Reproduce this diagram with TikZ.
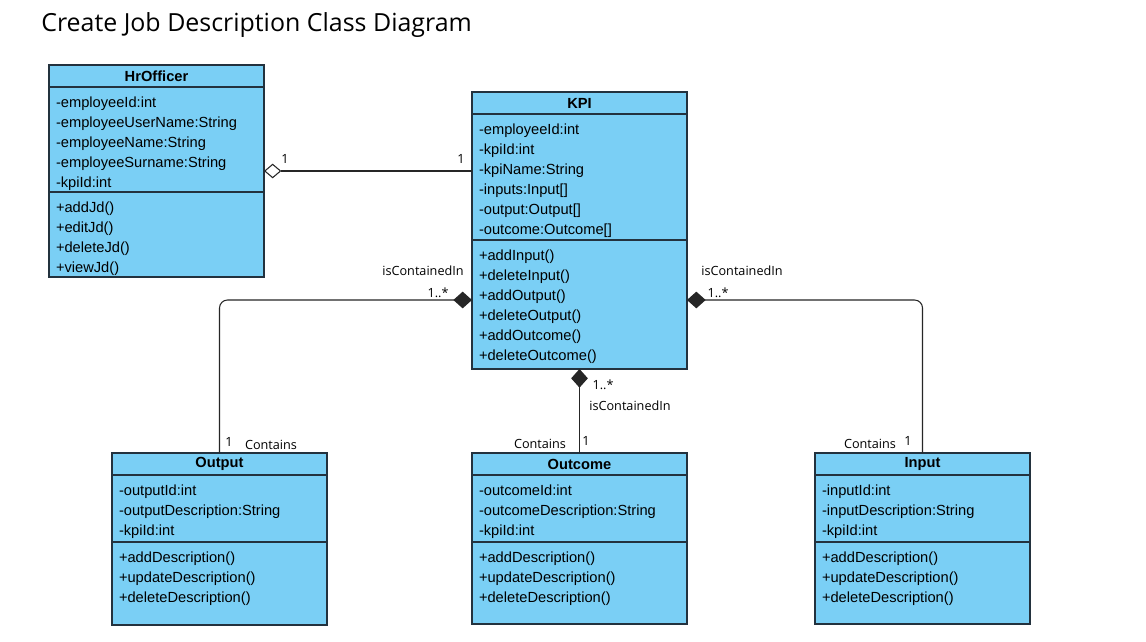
\documentclass[tikz,border=0pt]{standalone}
\usepackage{fontspec}
\setmainfont{Liberation Sans}
\newfontfamily\notefont{Open Sans}
\usetikzlibrary{positioning}
\usetikzlibrary{arrows.meta}
\definecolor{classfill}{RGB}{122,207,245}
\definecolor{classline}{RGB}{35,50,62}
\tikzset{
  classhead/.style={draw=classline, fill=classfill, line width=0.9pt, font=\fontsize{11}{15}\selectfont\bfseries, minimum width=161.25pt, minimum height=16.5pt, inner sep=0pt, outer sep=0pt},
  classpart/.style={draw=classline, fill=classfill, line width=0.9pt, font=\fontsize{11}{15}\selectfont, inner xsep=5.25pt, inner ysep=0pt, outer sep=0pt},
  assoc/.style={draw=black!85, line width=0.8pt},
  aggreg/.style={assoc, -{Diamond[fill=white, length=13pt, width=11pt]}},
  compos/.style={assoc, rounded corners=6pt, -{Diamond[length=14pt, width=12.5pt]}},
  note/.style={font=\notefont\fontsize{9.5}{11}\selectfont, inner sep=0pt},
}
\newcommand{\members}[2]{\parbox[c][#1][t]{150.75pt}{\rule{0pt}{15pt}#2}}

\begin{document}
\begin{tikzpicture}[x=0.75pt, y=-0.75pt]
  \fill[white] (0,0) rectangle (1146,642);
  \useasboundingbox (0,0) rectangle (1146,642);
  \node[anchor=base west, inner sep=0pt, font=\notefont\fontsize{18.7}{20}\selectfont] (title) at (41,32) {Create Job Description Class Diagram};

  % HrOfficer
  \node[classhead, anchor=north west] (hrhead) at (49,65) {HrOfficer};
  \node[classpart, below=0pt of hrhead] (hrattr) {\members{78.75pt}{-employeeId:int\\-employeeUserName:String\\-employeeName:String\\-employeeSurname:String\\-kpiId:int}};
  \node[classpart, below=0pt of hrattr] (hrmeth) {\members{63.75pt}{+addJd()\\+editJd()\\+deleteJd()\\+viewJd()}};

  % KPI
  \node[classhead, anchor=north west] (kpihead) at (472,92) {KPI};
  \node[classpart, below=0pt of kpihead] (kpiattr) {\members{94.5pt}{-employeeId:int\\-kpiId:int\\-kpiName:String\\-inputs:Input[]\\-output:Output[]\\-outcome:Outcome[]}};
  \node[classpart, below=0pt of kpiattr] (kpimeth) {\members{96.75pt}{+addInput()\\+deleteInput()\\+addOutput()\\+deleteOutput()\\+addOutcome()\\+deleteOutcome()}};

  % Output
  \node[classhead, anchor=north west] (outhead) at (112,453) {Output};
  \node[classpart, below=0pt of outhead] (outattr) {\members{50.25pt}{-outputId:int\\-outputDescription:String\\-kpiId:int}};
  \node[classpart, below=0pt of outattr] (outmeth) {\members{62.25pt}{+addDescription()\\+updateDescription()\\+deleteDescription()}};

  % Outcome
  \node[classhead, anchor=north west] (ochead) at (472,453) {Outcome};
  \node[classpart, below=0pt of ochead] (ocattr) {\members{50.25pt}{-outcomeId:int\\-outcomeDescription:String\\-kpiId:int}};
  \node[classpart, below=0pt of ocattr] (ocmeth) {\members{61.5pt}{+addDescription()\\+updateDescription()\\+deleteDescription()}};

  % Input
  \node[classhead, anchor=north west] (inhead) at (815,453) {Input};
  \node[classpart, below=0pt of inhead] (inattr) {\members{50.25pt}{-inputId:int\\-inputDescription:String\\-kpiId:int}};
  \node[classpart, below=0pt of inattr] (inmeth) {\members{61.5pt}{+addDescription()\\+updateDescription()\\+deleteDescription()}};

  % associations
  \draw[aggreg] (kpiattr.west |- 0,171) -- (hrattr.east |- 0,171);
  \draw[compos] (outhead.north) |- (kpimeth.west |- 0,300);
  \draw[compos] (inhead.north) |- (kpimeth.east |- 0,300);
  \draw[compos] (ochead.north) -- (kpimeth.south);

  % multiplicities and roles
  \node[note] (hrmult) at (285,159) {1};
  \node[note] (kpimult) at (461,159) {1};
  \node[note] (outrole) at (423,271) {isContainedIn};
  \node[note] (outmany) at (438,293) {1..*};
  \node[note] (outone) at (229,442) {1};
  \node[note] (outcont) at (271,445) {Contains};
  \node[note] (inrole) at (742,271) {isContainedIn};
  \node[note] (inmany) at (718,293) {1..*};
  \node[note] (inone) at (908,441) {1};
  \node[note] (incont) at (870,444) {Contains};
  \node[note] (ocmany) at (603,385) {1..*};
  \node[note] (ocrole) at (630,406) {isContainedIn};
  \node[note] (ocone) at (586,441) {1};
  \node[note] (occont) at (540,444) {Contains};
\end{tikzpicture}
\end{document}
